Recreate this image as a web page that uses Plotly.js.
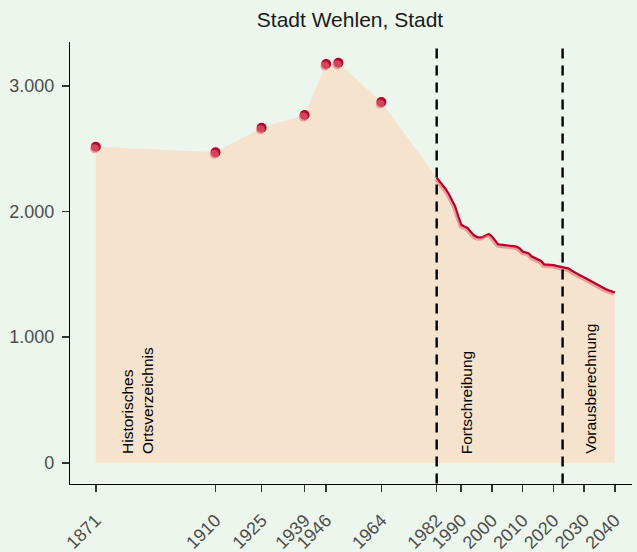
<!DOCTYPE html>
<html>
<head>
<meta charset="utf-8">
<script src="https://cdn.plot.ly/plotly-3.0.1.min.js"></script>
<style>html,body{margin:0;padding:0;background:#ecf6ec;}#chart{width:637px;height:552px;}</style>
</head>
<body>
<div id="chart"></div>
<script>
// ---- data ----
const chartTitle = 'Stadt Wehlen, Stadt';
const histYears = [1871, 1910, 1925, 1939, 1946, 1950, 1964];
const histPop   = [2515, 2470, 2666, 2767, 3173, 3183, 2870];
const lineYears = [1982,1983,1984,1985,1986,1987,1988,1989,1990,1991,1992,1993,1994,1995,1996,1997,1998,1999,
                   2000,2001,2002,2003,2004,2005,2006,2007,2008,2009,2010,2011,2012,2013,2014,2015,2016,2017,2018,2019,
                   2020,2021,2022,2023,2024,2025,2026,2027,2028,2029,2030,2031,2032,2033,2034,2035,2036,2037,2038,2039,2040];
const linePop   = [2268,2240,2205,2175,2135,2085,2037,1960,1893,1880,1868,1840,1812,1798,1791,1796,1808,1820,
                   1800,1765,1738,1735,1733,1730,1727,1723,1719,1706,1680,1672,1666,1640,1628,1619,1605,1578,1576,1579,
                   1572,1566,1560,1555,1549,1545,1528,1512,1500,1488,1474,1466,1452,1438,1422,1410,1396,1382,1372,1362,1354];
const breakYears = [1982, 2023];
const periodLabels = ['Historisches<br>Ortsverzeichnis', 'Fortschreibung', 'Vorausberechnung'];
const periodLabelX = [1884.6, 1991.8, 2032.2];
const xTickVals = [1871, 1910, 1925, 1939, 1946, 1964, 1982, 1990, 2000, 2010, 2020, 2030, 2040];
const yTickVals = [0, 1000, 2000, 3000];

// ---- styling ----
const W = 637, H = 552;
const M = {l: 66, r: 3, t: 38, b: 64};
const pw = W - M.l - M.r, ph = H - M.t - M.b;
const px0 = 70, px1 = 632, py0 = 42, py1 = 483.6; // plot area in pixels
const xd = [(px0 - M.l) / pw, (px1 - M.l) / pw];
const yd = [1 - (py1 - M.t) / ph, 1 - (py0 - M.t) / ph];
const sdx = -1.2 / pw, sdy = -2.0 / ph; // shadow offset
const xRange = [1862.6, 2045.6];
const yRange = [-165, 3348];
const bg = '#ecf6ec';
const dark = '#b4002a';
const pink = 'rgba(232,112,122,0.62)';
const font = 'Liberation Sans, Arial, Helvetica, sans-serif';

const areaX = histYears.concat(lineYears);
const areaY = histPop.concat(linePop);

const traces = [
  {x: areaX, y: areaY, type: 'scatter', mode: 'none', fill: 'tozeroy', fillcolor: '#f5e3cd', hoverinfo: 'skip'},
  {x: lineYears, y: linePop, type: 'scatter', mode: 'lines', line: {color: dark, width: 2.4}},
  {x: histYears, y: histPop, type: 'scatter', mode: 'markers', marker: {color: dark, size: 10}},
  {x: lineYears, y: linePop, type: 'scatter', mode: 'lines', line: {color: pink, width: 2.4}, xaxis: 'x2', yaxis: 'y2'},
  {x: histYears, y: histPop, type: 'scatter', mode: 'markers', marker: {color: pink, size: 9}, xaxis: 'x2', yaxis: 'y2'}
];

const axisCommon = {
  showgrid: false, zeroline: false, showline: true, linecolor: '#000', linewidth: 1.2,
  ticks: 'outside', ticklen: 7, tickwidth: 1.6, tickcolor: '#333',
  tickfont: {family: font, size: 18, color: '#4d4d4d'}, automargin: false
};

const shapes = breakYears.map(b => ({
  type: 'line', xref: 'x', yref: 'y domain', x0: b, x1: b, y0: 0, y1: 1,
  line: {color: '#000', width: 2.4, dash: '10px,7px'}, layer: 'above'
}));

const annotations = periodLabels.map((t, i) => ({
  text: t, x: periodLabelX[i], y: 55, xref: 'x', yref: 'y', textangle: -90,
  xanchor: 'center', yanchor: 'bottom', align: 'left', showarrow: false,
  font: {family: font, size: 15.5, color: '#000'}
}));

const layout = {
  width: W, height: H, margin: M,
  paper_bgcolor: bg, plot_bgcolor: 'rgba(0,0,0,0)',
  separators: ',.', showlegend: false,
  title: {text: chartTitle, font: {family: font, size: 21, color: '#1a1a1a'},
          x: 0.5, xref: 'paper', y: 1 - 20 / H, yref: 'container', yanchor: 'middle'},
  xaxis: Object.assign({}, axisCommon, {domain: xd, range: xRange, tickvals: xTickVals,
          tickangle: -45, ticklabelstandoff: 11}),
  yaxis: Object.assign({}, axisCommon, {domain: yd, range: yRange, tickvals: yTickVals,
          tickformat: ',d', ticklabelstandoff: 4}),
  xaxis2: {domain: [xd[0] + sdx, xd[1] + sdx], range: xRange, anchor: 'y2', visible: false},
  yaxis2: {domain: [yd[0] + sdy, yd[1] + sdy], range: yRange, anchor: 'x2', visible: false},
  shapes: shapes,
  annotations: annotations
};

Plotly.newPlot('chart', traces, layout, {displayModeBar: false, staticPlot: true});
</script>
</body>
</html>
